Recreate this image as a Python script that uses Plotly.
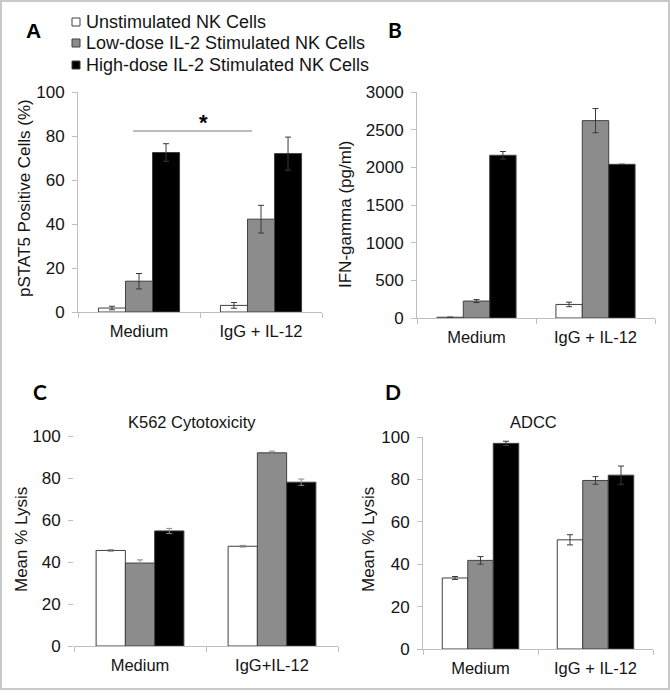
import plotly.graph_objects as go

# series (legend) names and fills
series = [
    "Unstimulated NK Cells",
    "Low-dose IL-2 Stimulated NK Cells",
    "High-dose IL-2 Stimulated NK Cells",
]
fills = ["white", "#8c8c8c", "black"]

cats_ab = ["Medium", "IgG + IL-12"]
cats_c = ["Medium", "IgG+IL-12"]

# A: pSTAT5 positive cells (%), one row per series
pstat5 = [[1.8, 3.0], [14.0, 42.2], [72.5, 72.0]]
pstat5_err = [[0.8, 1.3], [3.5, 6.3], [4.0, 7.5]]

# B: IFN-gamma (pg/ml)
ifn = [[10, 180], [225, 2620], [2160, 2040]]
ifn_err = [[0, 30], [20, 160], [50, 0]]

# C: K562 cytotoxicity, mean % lysis
k562 = [[45.5, 47.5], [39.5, 92.0], [54.8, 78.0]]
k562_err = [[0.4, 0.4], [1.5, 0.8], [1.2, 1.5]]

# D: ADCC, mean % lysis
adcc = [[33.5, 51.5], [41.8, 79.5], [97.0, 82.0]]
adcc_err = [[0.7, 2.4], [1.8, 1.8], [1.0, 4.3]]

W, H = 670, 695
FONT = "Liberation Sans, Arial, sans-serif"
AXIS_GREY = "#bfbfbf"
TEXT = "#141414"


def px(x):
    return x / W


def py(y):
    return 1 - y / H


fig = go.Figure()

panels = [
    # axis suffix, cats, values, errors, y range, dtick, x px, y px (bottom, top), err colour, show y line
    ("", cats_ab, pstat5, pstat5_err, 100, 20, (78, 322), (312, 92), "#3a3a3a", True),
    ("2", cats_ab, ifn, ifn_err, 3000, 500, (417, 655), (318, 92), "#3a3a3a", True),
    ("3", cats_c, k562, k562_err, 100, 20, (74, 338), (646, 436), "#8a8a8a", False),
    ("4", cats_ab, adcc, adcc_err, 100, 20, (423, 653), (649, 437), "#3a3a3a", True),
]

for suffix, cats, vals, errs, ymax, dtick, xs, ys, ecol, yline in panels:
    for i, name in enumerate(series):
        fig.add_trace(go.Bar(
            x=cats, y=vals[i], name=name, showlegend=False,
            xaxis="x" + suffix, yaxis="y" + suffix,
            marker=dict(color=fills[i], line=dict(color="#404040", width=1)),
            error_y=dict(type="data", array=errs[i], visible=True,
                         color=ecol, thickness=1, width=3),
            offsetgroup=str(i),
        ))
    fig.layout["xaxis" + suffix] = dict(
        domain=[px(xs[0]), px(xs[1])], anchor="y" + suffix,
        type="category", range=[-0.5, 1.5], automargin=False,
        showline=True, linecolor=AXIS_GREY, linewidth=1,
        ticks="outside", tickson="boundaries", ticklen=5, tickcolor=AXIS_GREY,
        tickfont=dict(family=FONT, size=16.5, color=TEXT),
        ticklabelstandoff=4, showgrid=False, zeroline=False, fixedrange=True,
    )
    fig.layout["yaxis" + suffix] = dict(
        domain=[py(ys[0]), py(ys[1])], anchor="x" + suffix,
        range=[0, ymax], dtick=dtick, automargin=False,
        showline=yline, linecolor=AXIS_GREY, linewidth=1,
        ticks="outside", ticklen=5, tickcolor=AXIS_GREY,
        tickfont=dict(family=FONT, size=17, color=TEXT),
        ticklabelstandoff=4, showgrid=False, zeroline=False, fixedrange=True,
    )

annotations = []
shapes = []

# y-axis titles
for text, x, y in [
    ("pSTAT5 Positive Cells (%)", 25, 198),
    ("IFN-gamma (pg/ml)", 345, 215),
    ("Mean % Lysis", 21, 540),
    ("Mean % Lysis", 368, 540),
]:
    annotations.append(dict(
        text=text, x=px(x), y=py(y), xref="paper", yref="paper",
        textangle=-90, showarrow=False, xanchor="center", yanchor="middle",
        font=dict(family=FONT, size=17, color=TEXT),
    ))

# panel titles
for text, x, y in [("K562 Cytotoxicity", 192, 422), ("ADCC", 533, 422)]:
    annotations.append(dict(
        text=text, x=px(x), y=py(y), xref="paper", yref="paper",
        showarrow=False, xanchor="center", yanchor="middle",
        font=dict(family=FONT, size=16.5, color=TEXT),
    ))

# panel letters
for text, x, y, fam in [
    ("A", 33, 31, FONT),
    ("B", 395, 29, "Lato, sans-serif"),
    ("C", 40, 391, "Lato, sans-serif"),
    ("D", 393, 391, "Lato, sans-serif"),
]:
    annotations.append(dict(
        text="<b>" + text + "</b>", x=px(x), y=py(y), xref="paper", yref="paper",
        showarrow=False, xanchor="center", yanchor="middle",
        font=dict(family=fam, size=21, color="black"),
    ))

# hand-made legend
for i, name in enumerate(series):
    cy = [22, 43, 65][i]
    shapes.append(dict(
        type="rect", xref="paper", yref="paper",
        x0=px(72), x1=px(80), y0=py(cy - 4), y1=py(cy + 4),
        fillcolor=fills[i], line=dict(color="#404040", width=1),
    ))
    annotations.append(dict(
        text=name, x=px(84), y=py(cy), xref="paper", yref="paper",
        showarrow=False, xanchor="left", yanchor="middle",
        font=dict(family=FONT, size=18, color=TEXT),
    ))

# significance bar in A
shapes.append(dict(
    type="line", xref="paper", yref="paper",
    x0=px(133), x1=px(252), y0=py(131), y1=py(131),
    line=dict(color="#a6a6a6", width=1.5),
))
annotations.append(dict(
    text="<b>*</b>", x=px(203), y=py(122), xref="paper", yref="paper",
    showarrow=False, xanchor="center", yanchor="middle",
    font=dict(family=FONT, size=22, color="black"),
))

# outer frame
shapes.append(dict(
    type="rect", xref="paper", yref="paper",
    x0=px(1), x1=px(669), y0=py(689), y1=py(1),
    line=dict(color="#c8c8c8", width=2), fillcolor="rgba(0,0,0,0)",
))

fig.update_layout(
    width=W, height=H,
    margin=dict(l=0, r=0, t=0, b=0, autoexpand=False),
    paper_bgcolor="white", plot_bgcolor="white",
    barmode="group", bargap=0.335, bargroupgap=0,
    annotations=annotations, shapes=shapes,
    showlegend=False,
    font=dict(family=FONT),
)

# drop the default 8px page margin so the figure sits flush in the window
fig.write_html(
    "out.html",
    config={"displayModeBar": False},
    post_script="document.body.style.margin='0';document.body.style.overflow='hidden';",
)
